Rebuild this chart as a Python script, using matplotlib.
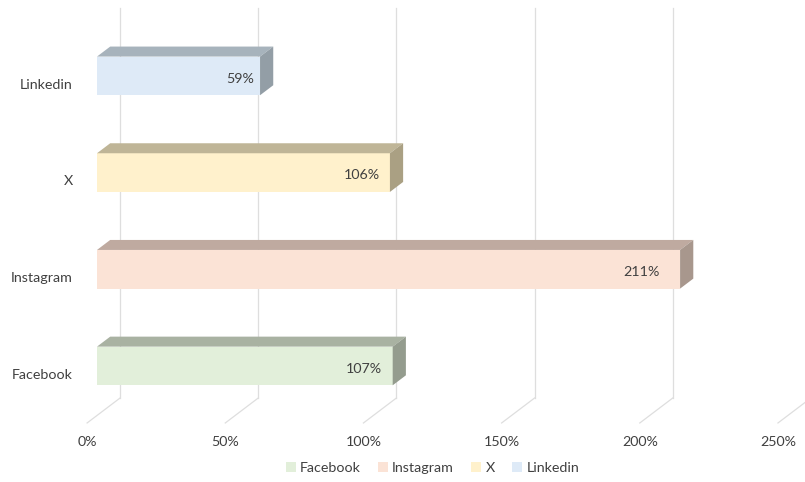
import matplotlib.pyplot as plt
from matplotlib.patches import Polygon, Patch

# ----------------------------
# Daten
# ----------------------------
categories = ["Facebook", "Instagram", "X", "Linkedin"]
values = [107, 211, 106, 59]
value_labels = ["107%", "211%", "106%", "59%"]
grid_values = [0, 50, 100, 150, 200, 250]
grid_labels = ["0%", "50%", "100%", "150%", "200%", "250%"]

front_colors = ["#E2EFDA", "#FBE3D6", "#FFF1CC", "#DEEAF7"]
top_colors = ["#A9B2A2", "#BFAAA0", "#BFB597", "#A7B3BC"]
side_colors = ["#949C8E", "#A8978D", "#AAA083", "#939EA6"]

# ----------------------------
# 3D-Geometrie (Schraegprojektion)
# ----------------------------
DEPTH_X = 11.94      # volle Tiefe in % (x)
DEPTH_Y = 0.2585     # volle Tiefe in Kategorie-Einheiten (y)
BAR_D0, BAR_D1 = 0.3, 0.7
BAR_H = 0.4
FLOOR_Y = -0.512
WALL_TOP = 3.521
GRID_COLOR = "#DEDEDE"
TEXT_COLOR = "#404040"
FS = 10.3


def shift(d):
    return (d - BAR_D0) * DEPTH_X, (d - BAR_D0) * DEPTH_Y


plt.rcParams["font.family"] = ["Lato", "DejaVu Sans"]

fig = plt.figure(figsize=(8.05, 4.82), dpi=100)
ax = fig.add_axes([0, 0, 1, 1])
ax.set_xlim(-35.1, 256.2)
ax.set_ylim(-1.2, 3.785)
ax.axis("off")

# Rueckwand + Boden
bx, by = shift(1.0)
fx, fy = shift(0.0)
for g, lab in zip(grid_values, grid_labels):
    ax.plot([g + bx, g + bx], [FLOOR_Y + by, WALL_TOP + by], color=GRID_COLOR, lw=0.9, zorder=1)
    ax.plot([g + bx, g + fx], [FLOOR_Y + by, FLOOR_Y + fy], color=GRID_COLOR, lw=0.9, zorder=1)
    ax.text(g + fx, -0.786, lab, ha="center", va="center", fontsize=FS, color=TEXT_COLOR)

# Balken
ddx = (BAR_D1 - BAR_D0) * DEPTH_X
ddy = (BAR_D1 - BAR_D0) * DEPTH_Y
for i, (cat, v) in enumerate(zip(categories, values)):
    ax.barh(i, v, height=BAR_H, left=0, color=front_colors[i], zorder=3)
    top = i + BAR_H / 2
    bot = i - BAR_H / 2
    ax.add_patch(Polygon([(0, top), (v, top), (v + ddx, top + ddy), (ddx, top + ddy)],
                         closed=True, facecolor=top_colors[i], edgecolor="none", zorder=3))
    ax.add_patch(Polygon([(v, bot), (v, top), (v + ddx, top + ddy), (v + ddx, bot + ddy)],
                         closed=True, facecolor=side_colors[i], edgecolor="none", zorder=3))
    ax.text(v * 0.965, i - 0.03, value_labels[i], ha="right", va="center",
            fontsize=FS, color=TEXT_COLOR, zorder=4)
    ax.text(-8.7, i - 0.09, cat, ha="right", va="center", fontsize=FS, color=TEXT_COLOR)

# Legende
handles = [Patch(facecolor=c, edgecolor="none", label=l) for c, l in zip(front_colors, categories)]
fig.legend(handles=handles, loc="center", bbox_to_anchor=(0.537, 0.029), ncol=4,
           frameon=False, fontsize=FS, handlelength=0.7, handleheight=0.7,
           handletextpad=0.3, columnspacing=1.2, labelcolor=TEXT_COLOR)

fig.savefig("out.png", dpi=100)
